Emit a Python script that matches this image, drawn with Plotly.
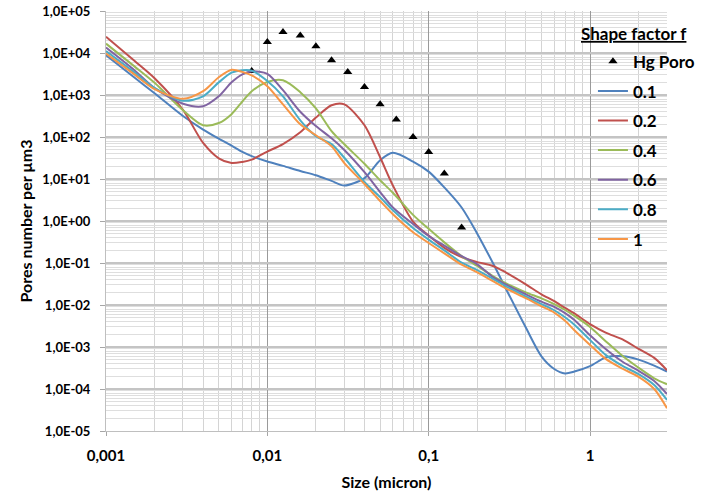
import plotly.graph_objects as go

# ---- data ----
SIZE = [0.001, 0.0015, 0.002, 0.003, 0.004, 0.005, 0.006, 0.007, 0.008, 0.01,
        0.0125, 0.016, 0.02, 0.025, 0.03, 0.04, 0.05, 0.06, 0.08, 0.1,
        0.125, 0.16, 0.2, 0.25, 0.3, 0.4, 0.5, 0.6, 0.7, 0.8,
        1, 1.25, 1.6, 2, 2.5, 3]

F_01 = [8800, 2600, 1100, 316, 150, 91, 62, 44, 35, 26,
        20.5, 15.5, 12.3, 9, 7, 10.5, 28, 42, 26, 15,
        6.3, 2.1, 0.5, 0.1, 0.025, 0.0029, 6e-4, 3e-4, 2.35e-4, 2.6e-4,
        3.5e-4, 5.6e-4, 6e-4, 5e-4, 3.6e-4, 2.6e-4]

F_02 = [24400, 6500, 2500, 440, 72, 31, 24, 25.5, 29, 45,
        68, 130, 290, 570, 600, 190, 33, 7, 0.97, 0.45,
        0.23, 0.138, 0.105, 0.085, 0.06, 0.031, 0.018, 0.0123, 0.0085, 0.0063,
        0.0035, 0.0022, 0.0015, 9e-4, 5.5e-4, 2.8e-4]

F_04 = [16700, 4800, 1950, 436, 190, 215, 350, 700, 1230, 2040,
        2240, 1170, 480, 138, 67, 23, 9.3, 4.7, 1.4, 0.65,
        0.31, 0.146, 0.085, 0.049, 0.033, 0.020, 0.0144, 0.0105, 0.0076, 0.0055,
        0.0030, 0.00138, 6e-4, 3.2e-4, 1.8e-4, 1.3e-4]

F_06 = [13500, 3900, 1450, 620, 540, 930, 2000, 3100, 3670, 3200,
        1300, 400, 182, 93, 49, 14.5, 4.9, 2.1, 0.85, 0.44,
        0.26, 0.145, 0.093, 0.046, 0.031, 0.018, 0.012, 0.009, 0.0064, 0.0044,
        0.0019, 9e-4, 4.4e-4, 2.7e-4, 1.55e-4, 7.6e-5]

F_08 = [11200, 3450, 1480, 730, 930, 2000, 3400, 3900, 3800, 2150,
        930, 250, 105, 68, 32, 8.5, 3.7, 1.8, 0.68, 0.36,
        0.2, 0.102, 0.068, 0.042, 0.028, 0.016, 0.0105, 0.0075, 0.0051, 0.0034,
        0.00148, 6.5e-4, 3.5e-4, 2.25e-4, 1.24e-4, 5.5e-5]

F_1 = [9700, 3100, 1380, 810, 1230, 2640, 3980, 3550, 2930, 1620,
       600, 200, 110, 60, 24, 7.6, 3.0, 1.45, 0.54, 0.3,
       0.17, 0.091, 0.06, 0.037, 0.025, 0.0145, 0.0093, 0.0066, 0.0042, 0.0025,
       0.00112, 5.2e-4, 3.0e-4, 1.95e-4, 1.0e-4, 3.5e-5]

HG_SIZE = [0.008, 0.01, 0.0125, 0.016, 0.02, 0.025, 0.0315, 0.04, 0.05, 0.063,
           0.08, 0.1, 0.125, 0.16]
HG_PORO = [3730, 18300, 31600, 26000, 14500, 6700, 3540, 1555, 603, 261,
           100, 44, 13.5, 0.70]

SERIES_NAMES = ["0.1", "0.2", "0.4", "0.6", "0.8", "1"]
SERIES_VALUES = [F_01, F_02, F_04, F_06, F_08, F_1]
COLORS = ["#4F81BD", "#C0504D", "#9BBB59", "#8064A2", "#4BACC6", "#F79646"]

Y_TICKVALS = [1e5, 1e4, 1e3, 1e2, 1e1, 1e0, 1e-1, 1e-2, 1e-3, 1e-4, 1e-5]
Y_TICKTEXT = ["1,0E+05", "1,0E+04", "1,0E+03", "1,0E+02", "1,0E+01", "1,0E+00",
              "1,0E-01", "1,0E-02", "1,0E-03", "1,0E-04", "1,0E-05"]
X_TICKVALS = [0.001, 0.01, 0.1, 1]
X_TICKTEXT = ["0,001", "0,01", "0,1", "1"]

FONT = "Lato, 'Open Sans', sans-serif"

fig = go.Figure()

fig.add_trace(go.Scatter(
    x=HG_SIZE, y=HG_PORO, mode="markers", name="Hg Poro",
    marker=dict(symbol="triangle-up", size=8, color="black"),
    legendgroup="hg",
))

for name, vals, col in zip(SERIES_NAMES, SERIES_VALUES, COLORS):
    fig.add_trace(go.Scatter(
        x=SIZE, y=vals, mode="lines", name=name,
        line=dict(color=col, width=2, shape="spline", smoothing=0.8),
        legendgroup=name,
    ))

fig.update_layout(
    width=712, height=497,
    margin=dict(l=106, r=45, t=11, b=66),
    paper_bgcolor="white", plot_bgcolor="white",
    font=dict(family=FONT, color="black"),
    showlegend=True,
    legend=dict(
        x=0.868, y=0.922, xanchor="left", yanchor="top",
        bgcolor="rgba(0,0,0,0)",
        font=dict(family=FONT, size=17, color="black", weight="bold"),
        tracegroupgap=4.5,
    ),
    annotations=[dict(
        text="<u>Shape factor f</u>", xref="paper", yref="paper",
        x=0.843, y=0.947, xanchor="left", yanchor="middle", showarrow=False,
        font=dict(family=FONT, size=17, color="black", weight="bold"),
    )],
)

fig.update_xaxes(
    type="log", range=[-3, 0.4771], automargin=False,
    tickvals=X_TICKVALS, ticktext=X_TICKTEXT,
    tickfont=dict(family=FONT, size=15, color="black", weight="bold"),
    ticks="outside", ticklen=4, tickcolor="#a6a6a6",
    ticklabelstandoff=7,
    showgrid=True, gridcolor="#9a9a9a", gridwidth=1,
    showline=True, linecolor="#bfbfbf", linewidth=1,
    minor=dict(dtick="D1", showgrid=True, gridcolor="#d4d4d4", gridwidth=1, ticks=""),
    title=dict(text="Size (micron)", font=dict(family=FONT, size=16, color="black", weight="bold"), standoff=13),
    zeroline=False,
)

fig.update_yaxes(
    type="log", range=[-5, 5], automargin=False,
    tickvals=Y_TICKVALS, ticktext=Y_TICKTEXT,
    tickfont=dict(family=FONT, size=13, color="black", weight="bold"),
    ticks="outside", ticklen=5, tickcolor="#a6a6a6",
    ticklabelstandoff=7, ticklabeloverflow="allow",
    showgrid=True, gridcolor="#c4c4c4", gridwidth=2,
    showline=True, linecolor="#bfbfbf", linewidth=1, mirror=False,
    minor=dict(dtick="D1", showgrid=True, gridcolor="#dedede", gridwidth=1, ticks=""),
    title=dict(text="Pores number per µm3", font=dict(family=FONT, size=16, color="black", weight="bold"), standoff=5),
    zeroline=False,
)

fig.write_html("out.html", config={"displayModeBar": False},
               post_script="document.body.style.margin='0px';")
